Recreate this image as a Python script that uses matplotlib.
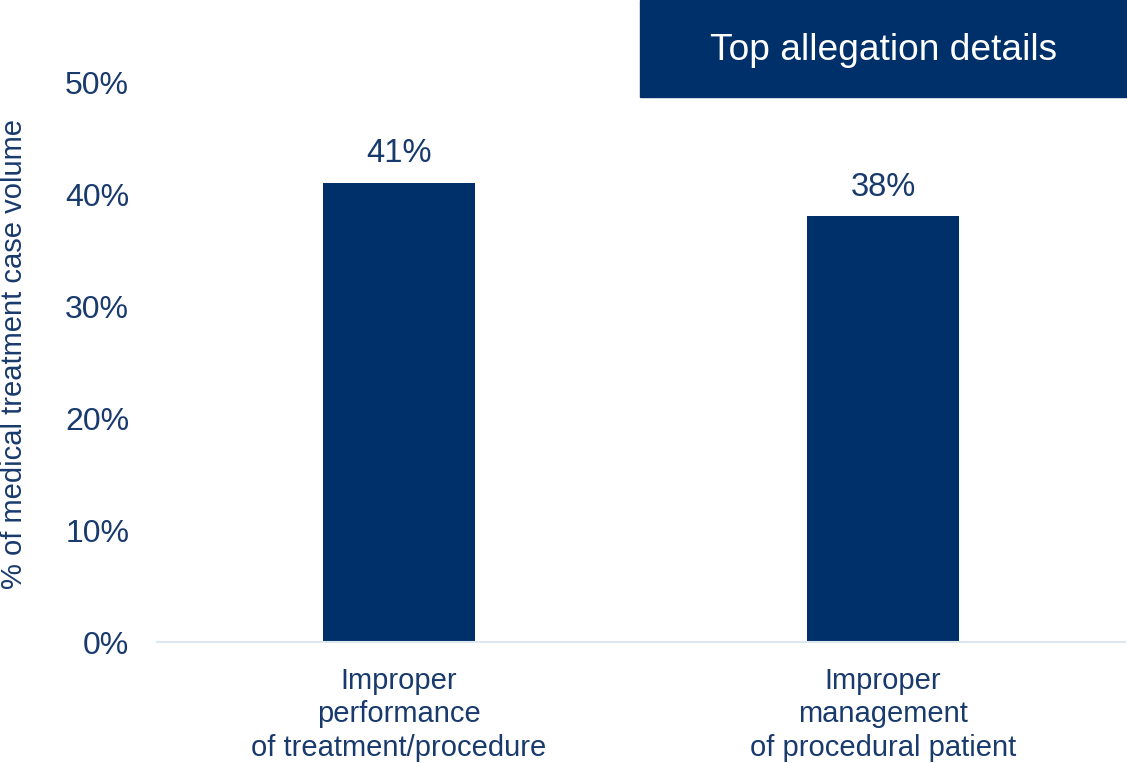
import matplotlib.pyplot as plt
from matplotlib.patches import Rectangle
from matplotlib.ticker import PercentFormatter

plt.rcParams["font.family"] = ["Liberation Sans", "DejaVu Sans"]

# Data
categories = ["Improper\nperformance\nof treatment/procedure",
              "Improper\nmanagement\nof procedural patient"]
values = [0.41, 0.38]
value_labels = ["41%", "38%"]

navy = "#003069"
text_color = "#183a6c"

fig = plt.figure(figsize=(11.27, 7.63), dpi=100)
ax = fig.add_axes([157 / 1127, 1 - 642 / 763, 968 / 1127, 560 / 763])

x = range(len(categories))
bars = ax.bar(x, values, width=0.312, color=navy)

for bar, lab in zip(bars, value_labels):
    ax.annotate(lab, (bar.get_x() + bar.get_width() / 2, bar.get_height()),
                xytext=(0, 10), textcoords="offset points",
                ha="center", va="bottom", fontsize=23.5, color=text_color)

ax.set_xlim(-0.5, 1.5)
ax.set_ylim(0, 0.5)
ax.set_yticks([0, 0.1, 0.2, 0.3, 0.4, 0.5])
ax.yaxis.set_major_formatter(PercentFormatter(1.0, decimals=0))
ax.set_xticks(list(x))
ax.set_xticklabels(categories, fontsize=21, color=text_color, linespacing=1.25)
ax.tick_params(axis="y", labelsize=23, colors=text_color, length=0, pad=20)
ax.tick_params(axis="x", length=0, pad=18)
ax.set_ylabel("% of medical treatment case volume", fontsize=21, color=text_color)
ax.yaxis.set_label_coords(-129 / 968, 0.5 + 0.015)

for side in ["top", "right", "left"]:
    ax.spines[side].set_visible(False)
ax.spines["bottom"].set_color("#dce7ef")
ax.spines["bottom"].set_linewidth(1.5)

# Header box
fig.patches.append(Rectangle((640 / 1127, 1 - 97 / 763), 487 / 1127, 97 / 763,
                             transform=fig.transFigure, color=navy, zorder=0))
fig.text((640 + 1127) / 2 / 1127, 1 - 50 / 763, "Top allegation details",
         ha="center", va="center", fontsize=26.7, color="white")

fig.savefig("out.png", dpi=100)
